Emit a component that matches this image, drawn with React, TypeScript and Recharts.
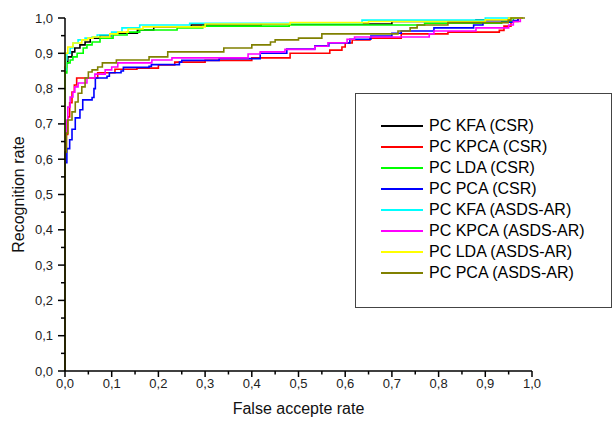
import { LineChart, Line, XAxis, YAxis, Legend, Label } from "recharts"

// [false accept rate, recognition rate]
const kfaCsr = [[0, 0], [0, 0.86], [0.003, 0.873], [0.006, 0.89], [0.015, 0.904], [0.021, 0.915], [0.032, 0.924], [0.043, 0.932], [0.054, 0.943], [0.075, 0.95], [0.1, 0.957], [0.155, 0.966], [0.19, 0.975], [0.27, 0.98], [0.42, 0.983], [0.7, 0.99], [0.88, 0.995], [0.95, 1.0], [0.98, 1.0]]
const kpcaCsr = [[0, 0], [0, 0.62], [0.003, 0.67], [0.006, 0.72], [0.01, 0.76], [0.015, 0.79], [0.02, 0.81], [0.025, 0.83], [0.07, 0.845], [0.107, 0.855], [0.154, 0.858], [0.2, 0.867], [0.235, 0.875], [0.3, 0.88], [0.4, 0.887], [0.482, 0.9], [0.567, 0.909], [0.593, 0.918], [0.6, 0.929], [0.615, 0.938], [0.653, 0.943], [0.72, 0.955], [0.82, 0.96], [0.93, 0.965], [0.94, 0.977], [0.955, 0.99], [0.97, 1.0], [0.98, 1.0]]
const ldaCsr = [[0, 0], [0, 0.844], [0.004, 0.873], [0.011, 0.881], [0.017, 0.89], [0.026, 0.9], [0.039, 0.915], [0.047, 0.924], [0.058, 0.932], [0.075, 0.943], [0.103, 0.952], [0.133, 0.96], [0.16, 0.966], [0.24, 0.972], [0.295, 0.977], [0.48, 0.98], [0.77, 0.985], [0.935, 0.99], [0.96, 1.0], [0.98, 1.0]]
const pcaCsr = [[0, 0], [0, 0.59], [0.004, 0.63], [0.01, 0.655], [0.015, 0.685], [0.022, 0.717], [0.032, 0.74], [0.038, 0.768], [0.058, 0.775], [0.062, 0.8], [0.065, 0.83], [0.09, 0.835], [0.095, 0.845], [0.12, 0.85], [0.125, 0.86], [0.18, 0.863], [0.185, 0.868], [0.245, 0.875], [0.25, 0.88], [0.33, 0.885], [0.418, 0.9], [0.475, 0.912], [0.535, 0.921], [0.565, 0.929], [0.61, 0.94], [0.655, 0.949], [0.7, 0.957], [0.72, 0.963], [0.79, 0.972], [0.875, 0.98], [0.895, 0.988], [0.96, 0.993], [0.97, 1.0], [0.98, 1.0]]
const kfaAsds = [[0, 0], [0, 0.853], [0.002, 0.881], [0.004, 0.9], [0.011, 0.915], [0.017, 0.929], [0.028, 0.938], [0.043, 0.943], [0.058, 0.946], [0.069, 0.952], [0.1, 0.96], [0.122, 0.972], [0.16, 0.98], [0.267, 0.985], [0.636, 0.994], [0.9, 1.0], [0.98, 1.0]]
const kpcaAsds = [[0, 0], [0, 0.674], [0.004, 0.711], [0.006, 0.748], [0.011, 0.776], [0.017, 0.79], [0.021, 0.805], [0.028, 0.816], [0.047, 0.83], [0.064, 0.841], [0.086, 0.853], [0.1, 0.861], [0.113, 0.873], [0.186, 0.881], [0.229, 0.887], [0.392, 0.898], [0.418, 0.904], [0.471, 0.911], [0.535, 0.92], [0.563, 0.93], [0.604, 0.94], [0.62, 0.946], [0.78, 0.955], [0.79, 0.963], [0.88, 0.972], [0.95, 0.98], [0.96, 0.99], [0.975, 1.0], [0.98, 1.0]]
const ldaAsds = [[0, 0], [0, 0.861], [0.001, 0.9], [0.006, 0.918], [0.017, 0.929], [0.036, 0.938], [0.049, 0.943], [0.06, 0.946], [0.096, 0.955], [0.113, 0.96], [0.135, 0.969], [0.167, 0.975], [0.3, 0.983], [0.482, 0.987], [0.65, 0.99], [0.9, 0.995], [0.95, 1.0], [0.98, 1.0]]
const pcaAsds = [[0, 0], [0, 0.62], [0.003, 0.674], [0.006, 0.711], [0.015, 0.734], [0.022, 0.762], [0.028, 0.787], [0.036, 0.805], [0.043, 0.83], [0.05, 0.847], [0.058, 0.853], [0.07, 0.861], [0.08, 0.873], [0.11, 0.881], [0.18, 0.89], [0.22, 0.904], [0.34, 0.915], [0.4, 0.924], [0.44, 0.932], [0.45, 0.938], [0.5, 0.943], [0.55, 0.955], [0.713, 0.963], [0.739, 0.972], [0.754, 0.98], [0.82, 0.987], [0.949, 0.994], [0.955, 1.0], [0.985, 1.0]]

const seriesNames = ["PC KFA (CSR)", "PC KPCA (CSR)", "PC LDA (CSR)", "PC PCA (CSR)", "PC KFA (ASDS-AR)", "PC KPCA (ASDS-AR)", "PC LDA (ASDS-AR)", "PC PCA (ASDS-AR)"]
const seriesColors = ["#000000", "#ff0000", "#00ff00", "#0000ff", "#00ffff", "#ff00ff", "#ffff00", "#808000"]
const seriesPoints = [kfaCsr, kpcaCsr, ldaCsr, pcaCsr, kfaAsds, kpcaAsds, ldaAsds, pcaAsds]

const axisTicks = [0, 0.05, 0.1, 0.15, 0.2, 0.25, 0.3, 0.35, 0.4, 0.45, 0.5, 0.55, 0.6, 0.65, 0.7, 0.75, 0.8, 0.85, 0.9, 0.95, 1.0]

const FONT = "'Liberation Sans', Arial, sans-serif"

const isMajor = (v: number) => Math.round(v * 100) % 10 === 0
const fmt = (v: number) => v.toFixed(1).replace(".", ",")

function XTick({ x, y, payload }: any) {
  const major = isMajor(payload.value)
  return (
    <g>
      <line x1={x} y1={y} x2={x} y2={y + (major ? 6 : 3.5)} stroke="#000" strokeWidth={1.5} />
      {major && (
        <text x={x} y={y + 17} textAnchor="middle" fontSize={13} fontFamily={FONT} fill="#222">
          {fmt(payload.value)}
        </text>
      )}
    </g>
  )
}

function YTick({ x, y, payload }: any) {
  const major = isMajor(payload.value)
  return (
    <g>
      <line x1={x} y1={y} x2={x - (major ? 7 : 4)} y2={y} stroke="#000" strokeWidth={1.5} />
      {major && (
        <text x={x - 12} y={y + 4.5} textAnchor="end" fontSize={13} fontFamily={FONT} fill="#222">
          {fmt(payload.value)}
        </text>
      )}
    </g>
  )
}

function LegendBox() {
  return (
    <div style={{ width: "100%", height: "100%", boxSizing: "border-box", border: "1.5px solid #444", background: "#fff", paddingTop: 22, paddingLeft: 25 }}>
      {seriesNames.map((name, i) => (
        <div key={name} style={{ display: "flex", alignItems: "center", height: 20.9, fontFamily: FONT, fontSize: 16, color: "#000", whiteSpace: "nowrap" }}>
          <svg width={42} height={4} style={{ marginRight: 6 }}>
            <line x1={0} y1={2} x2={42} y2={2} stroke={seriesColors[i]} strokeWidth={2} />
          </svg>
          <span>{name}</span>
        </div>
      ))}
    </div>
  )
}

export default function App() {
  return (
    <div style={{ position: "absolute", left: 0, top: 0, background: "#fff" }}>
      <LineChart width={612} height={428} margin={{ top: 18, right: 80, bottom: 12, left: 15 }}>
        <XAxis
          type="number"
          dataKey="x"
          domain={[0, 1]}
          ticks={axisTicks}
          interval={0}
          tickSize={0}
          tickMargin={0}
          tick={<XTick />}
          height={45}
          axisLine={{ stroke: "#000", strokeWidth: 1.5 }}
        >
          <Label value="False accepte rate" position="insideBottom" offset={2} style={{ fontFamily: FONT, fontSize: 16, fill: "#111" }} />
        </XAxis>
        <YAxis
          type="number"
          domain={[0, 1]}
          ticks={axisTicks}
          interval={0}
          tickSize={0}
          tickMargin={0}
          tick={<YTick />}
          width={50}
          axisLine={{ stroke: "#000", strokeWidth: 1.5 }}
        >
          <Label value="Recognition rate" angle={-90} position="insideLeft" offset={3} style={{ fontFamily: FONT, fontSize: 16, fill: "#111", textAnchor: "middle" }} />
        </YAxis>
        {seriesPoints.map((pts, i) => (
          <Line
            key={seriesNames[i]}
            name={seriesNames[i]}
            data={pts.map(([x, y]) => ({ x, y }))}
            dataKey="y"
            type="stepAfter"
            stroke={seriesColors[i]}
            strokeWidth={1.6}
            dot={false}
            isAnimationActive={false}
          />
        ))}
        <Legend
          layout="vertical"
          align="center"
          verticalAlign="middle"
          content={<LegendBox />}
          wrapperStyle={{ left: 355, top: 93, width: 257, height: 215 }}
        />
      </LineChart>
    </div>
  )
}
